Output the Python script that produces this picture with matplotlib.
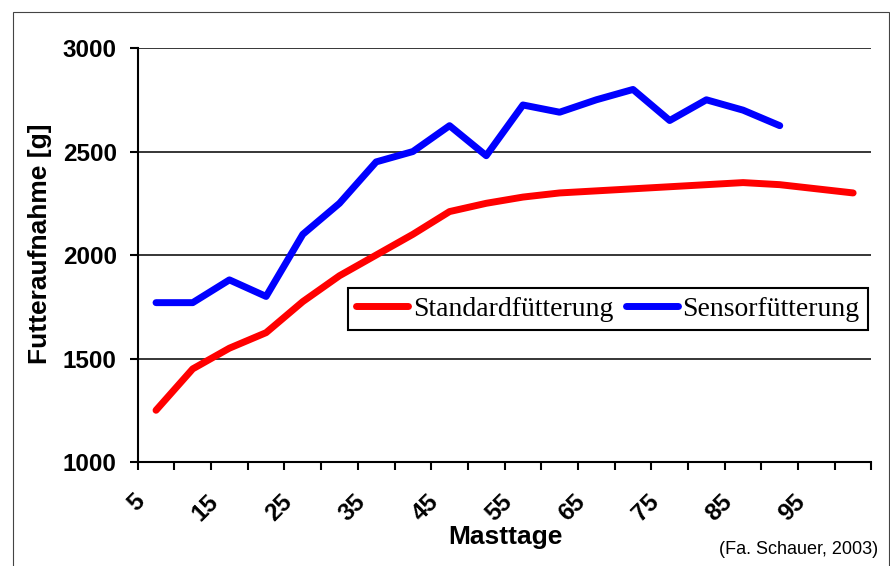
import numpy as np
import matplotlib.pyplot as plt
from matplotlib.patches import Rectangle
from matplotlib.transforms import ScaledTranslation

# Masttage (categories, every 5 days)
days = [5, 10, 15, 20, 25, 30, 35, 40, 45, 50, 55, 60, 65, 70, 75, 80, 85, 90, 95, 100]
standard = [1250, 1450, 1550, 1625, 1775, 1900, 2000, 2100, 2210, 2250,
            2280, 2300, 2310, 2320, 2330, 2340, 2350, 2340, 2320, 2300]
sensor_days = days[:18]
sensor = [1770, 1770, 1880, 1800, 2100, 2250, 2450, 2500, 2625, 2480,
          2725, 2690, 2750, 2800, 2650, 2750, 2700, 2625]
tick_labels = ['5', '15', '25', '35', '45', '55', '65', '75', '85', '95']

fig = plt.figure(figsize=(8.9, 5.66), dpi=100)
ax = fig.add_axes([0.1547, 0.1837, 0.8245, 0.7314])

ax.plot(days, standard, color='#ff0000', linewidth=5, solid_capstyle='round',
        label='Standardfütterung')
ax.plot(sensor_days, sensor, color='#0000ff', linewidth=5, solid_capstyle='round',
        label='Sensorfütterung')

ax.set_xlim(2.5, 102.5)
ax.set_ylim(1000, 3000)

# horizontal gridlines
ax.set_yticks([1000, 1500, 2000, 2500, 3000])
ax.yaxis.grid(True, color='black', linewidth=1.1)
ax.set_axisbelow(True)

for s in ['top', 'right']:
    ax.spines[s].set_visible(False)
for s in ['left', 'bottom']:
    ax.spines[s].set_linewidth(1.5)

# category boundaries as tick marks, labels under every second category
ax.set_xticks(np.arange(2.5, 103, 5), minor=True)
ax.set_xticks([int(t) for t in tick_labels])
ax.set_xticklabels(tick_labels, rotation=45, ha='right', va='center',
                   rotation_mode='anchor', fontsize=17.5, fontweight='bold',
                   family='Liberation Sans')
ax.tick_params(axis='x', which='major', length=0, pad=26)
ax.tick_params(axis='x', which='minor', length=6, width=1.5, direction='out')
offset = ScaledTranslation(-0.145, 0, fig.dpi_scale_trans)
for lab in ax.get_xticklabels():
    lab.set_transform(lab.get_transform() + offset)

ax.set_yticklabels(['1000', '1500', '2000', '2500', '3000'], fontsize=17.5,
                   fontweight='bold', family='Liberation Sans')
ax.tick_params(axis='y', length=6, width=1.5, direction='out', pad=9)

# axis titles
fig.text(40 / 890, 1 - 244 / 566, 'Futteraufnahme [g]', rotation=90,
         ha='center', va='center', fontsize=19, fontweight='bold',
         family='Liberation Sans')
fig.text(505 / 890, 1 - 537 / 566, 'Masttage', ha='center', va='center',
         fontsize=19, fontweight='bold', family='Liberation Sans')
fig.text(878 / 890, 1 - 550 / 566, '(Fa. Schauer, 2003)', ha='right',
         va='center', fontsize=13, family='Liberation Sans')

leg = ax.legend(loc='upper left', bbox_to_anchor=(348 / 890, 1 - 288 / 566),
                bbox_transform=fig.transFigure, ncol=2, frameon=True, fancybox=False,
                borderaxespad=0, borderpad=0.3, handlelength=1.87,
                handletextpad=0.18, columnspacing=0.43,
                prop={'family': 'Liberation Serif', 'size': 20})
leg.get_frame().set_edgecolor('black')
leg.get_frame().set_linewidth(1.5)
leg.get_frame().set_alpha(1)

# outer frame
fig.patches.append(Rectangle((12.5 / 890, -0.02), 876 / 890, 1 - 11.5 / 566 + 0.02,
                             transform=fig.transFigure, fill=False,
                             edgecolor='#444444', linewidth=0.8))

fig.savefig('out.png', dpi=100)
